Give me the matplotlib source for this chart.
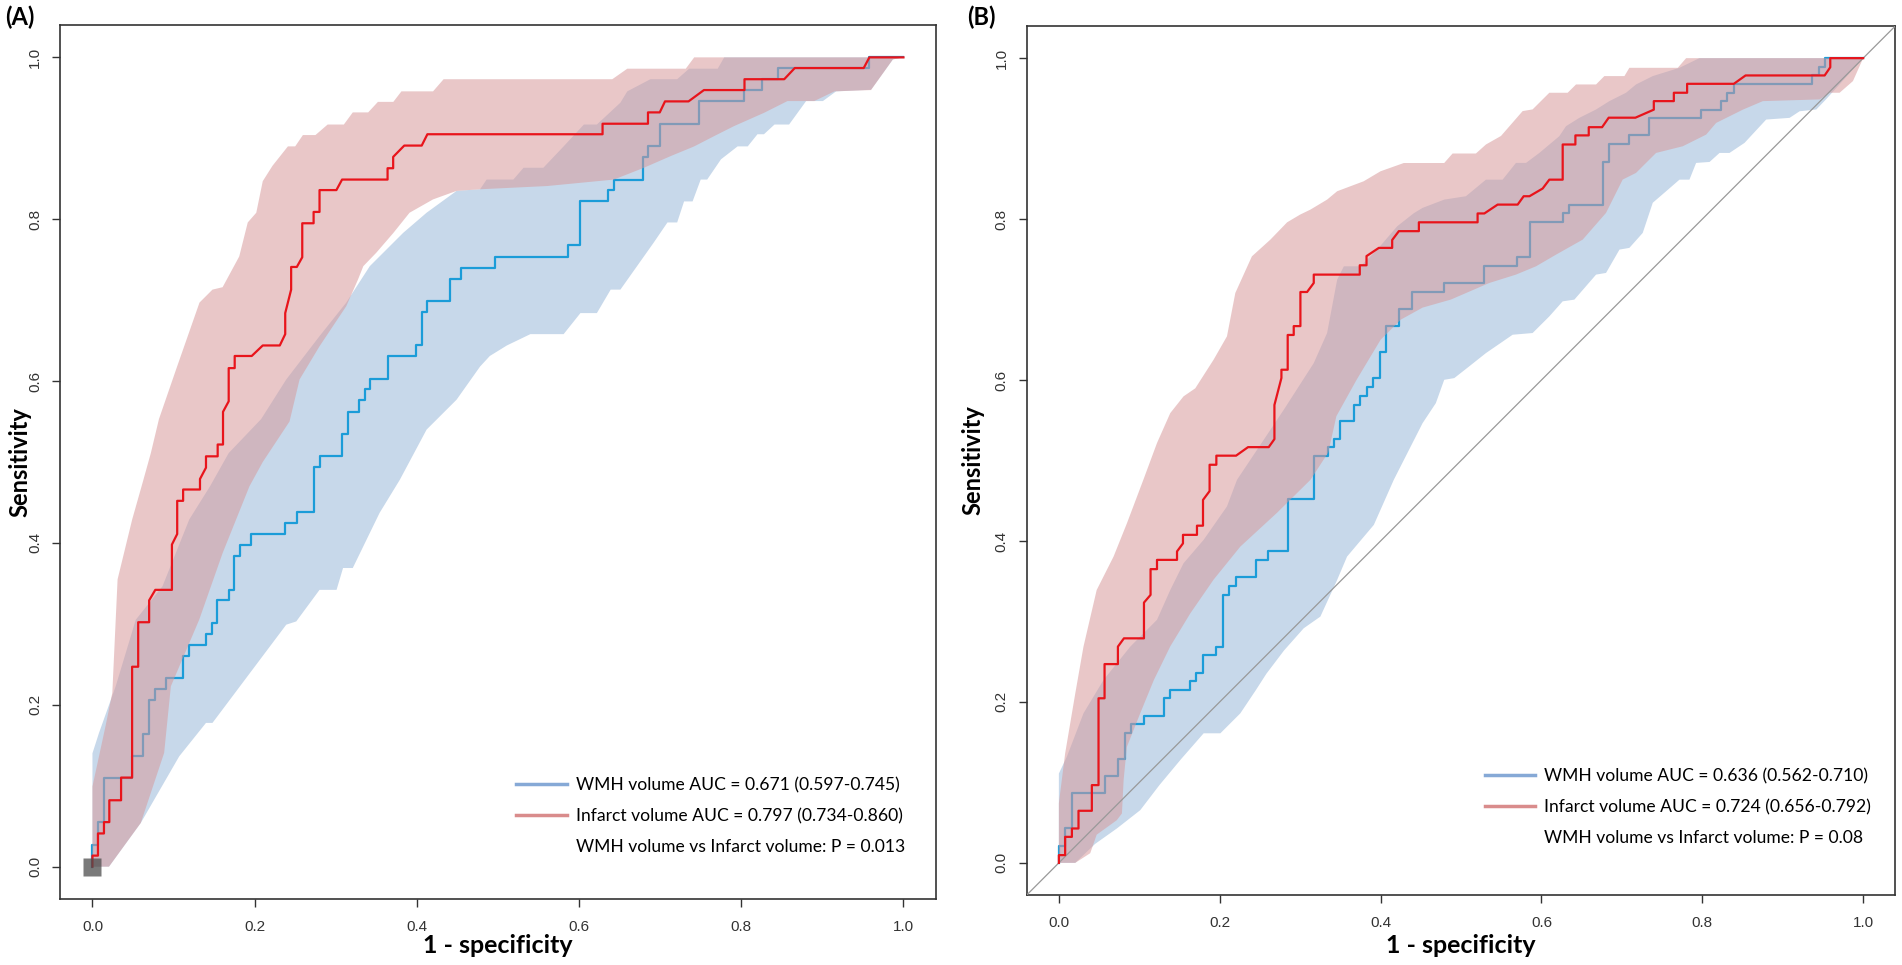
import numpy as np
import matplotlib
matplotlib.use('Agg')
import matplotlib.pyplot as plt
from matplotlib.lines import Line2D

plt.rcParams['font.family'] = ['Lato', 'DejaVu Sans']

# ---------------------------------------------------------------------------
# Data: ROC step curves (1 - specificity, sensitivity)
# and the upper / lower edges of the shaded 95% CI bands.
# ---------------------------------------------------------------------------
# Panel A
a_wmh_curve = [(0, 0), (0, 0.027), (0.0068, 0.027), (0.0068, 0.055), (0.0142, 0.055), (0.0142, 0.110),
               (0.0489, 0.110), (0.0489, 0.137), (0.0629, 0.137), (0.0629, 0.164), (0.0699, 0.164),
               (0.0699, 0.2056), (0.0769, 0.2056), (0.0769, 0.2196), (0.0905, 0.2196), (0.0905, 0.2328),
               (0.1115, 0.2328), (0.1115, 0.26), (0.1185, 0.26), (0.1185, 0.274), (0.140, 0.274),
               (0.140, 0.288), (0.147, 0.288), (0.147, 0.301), (0.154, 0.301), (0.154, 0.329),
               (0.168, 0.329), (0.168, 0.342), (0.175, 0.342), (0.175, 0.3836), (0.182, 0.3836),
               (0.182, 0.398), (0.196, 0.398), (0.196, 0.411), (0.238, 0.411), (0.238, 0.4248),
               (0.2517, 0.4248), (0.2517, 0.4388), (0.2727, 0.4388), (0.2727, 0.4936), (0.280, 0.4936),
               (0.280, 0.507), (0.3078, 0.507), (0.3078, 0.535), (0.3148, 0.535), (0.3148, 0.562),
               (0.3288, 0.562), (0.3288, 0.576), (0.3358, 0.576), (0.3358, 0.59), (0.3428, 0.59),
               (0.3428, 0.603), (0.3639, 0.603), (0.3639, 0.631), (0.3989, 0.631), (0.3989, 0.644),
               (0.406, 0.644), (0.406, 0.685), (0.413, 0.685), (0.413, 0.699), (0.441, 0.699),
               (0.441, 0.7264), (0.455, 0.7264), (0.455, 0.740), (0.4966, 0.740), (0.4966, 0.7536),
               (0.587, 0.7536), (0.587, 0.7676), (0.601, 0.7676), (0.601, 0.822), (0.636, 0.822),
               (0.636, 0.836), (0.643, 0.836), (0.643, 0.849), (0.679, 0.849), (0.679, 0.877),
               (0.685, 0.877), (0.685, 0.891), (0.6995, 0.891), (0.6995, 0.918), (0.7485, 0.918),
               (0.7485, 0.9456), (0.804, 0.9456), (0.804, 0.9596), (0.8256, 0.9596), (0.8256, 0.973),
               (0.8458, 0.973), (0.8458, 0.9868), (0.958, 0.9868), (0.958, 1.0), (1.0, 1.0)]
a_inf_curve = [(0, 0), (0, 0.0136), (0.0068, 0.0136), (0.0068, 0.041), (0.0142, 0.041), (0.0142, 0.055),
               (0.0208, 0.055), (0.0208, 0.082), (0.0353, 0.082), (0.0353, 0.110), (0.0489, 0.110),
               (0.0489, 0.247), (0.0564, 0.247), (0.0564, 0.302), (0.0699, 0.302), (0.0699, 0.329),
               (0.0775, 0.342), (0.098, 0.342), (0.098, 0.398), (0.1045, 0.411), (0.1045, 0.452),
               (0.1118, 0.452), (0.1118, 0.466), (0.1326, 0.466), (0.1326, 0.479), (0.14, 0.493),
               (0.14, 0.507), (0.1544, 0.507), (0.1544, 0.5216), (0.161, 0.5216), (0.161, 0.562),
               (0.168, 0.575), (0.168, 0.616), (0.1754, 0.616), (0.1754, 0.631), (0.1964, 0.631),
               (0.210, 0.644), (0.231, 0.644), (0.2377, 0.658), (0.2377, 0.684), (0.245, 0.713),
               (0.245, 0.741), (0.252, 0.741), (0.2587, 0.753), (0.2587, 0.795), (0.2727, 0.795),
               (0.2727, 0.809), (0.280, 0.809), (0.280, 0.836), (0.3008, 0.836), (0.3078, 0.849),
               (0.3639, 0.849), (0.3639, 0.863), (0.3708, 0.863), (0.3708, 0.877), (0.3845, 0.891),
               (0.406, 0.891), (0.413, 0.905), (0.629, 0.905), (0.629, 0.918), (0.685, 0.918),
               (0.685, 0.932), (0.6995, 0.932), (0.706, 0.9456), (0.735, 0.9456), (0.754, 0.9596),
               (0.804, 0.9596), (0.804, 0.973), (0.853, 0.973), (0.866, 0.9868), (0.951, 0.9868),
               (0.958, 1.0), (1.0, 1.0)]
a_wmh_ci_hi = [(0, 0), (0, 0.14), (0.008, 0.165), (0.0287, 0.223), (0.0534, 0.305), (0.0864, 0.3465),
               (0.1194, 0.429), (0.145, 0.47), (0.168, 0.511), (0.208, 0.553), (0.239, 0.602),
               (0.28, 0.6555), (0.313, 0.697), (0.342, 0.742), (0.383, 0.783), (0.412, 0.808),
               (0.449, 0.835), (0.478, 0.837), (0.486, 0.849), (0.519, 0.849), (0.5316, 0.8636),
               (0.556, 0.8636), (0.581, 0.89), (0.606, 0.917), (0.622, 0.917), (0.651, 0.944),
               (0.6595, 0.958), (0.688, 0.973), (0.721, 0.973), (0.7357, 0.986), (0.771, 0.986),
               (0.779, 1.0), (1, 1)]
a_wmh_ci_lo = [(0.0204, 0), (0.0596, 0.054), (0.107, 0.1363), (0.14, 0.1776), (0.148, 0.1776),
               (0.239, 0.299), (0.2513, 0.303), (0.28, 0.342), (0.301, 0.342), (0.309, 0.369),
               (0.321, 0.369), (0.354, 0.437), (0.379, 0.478), (0.412, 0.54), (0.449, 0.577),
               (0.478, 0.618), (0.49, 0.631), (0.511, 0.644), (0.54, 0.658), (0.581, 0.658),
               (0.6017, 0.684), (0.622, 0.684), (0.639, 0.713), (0.651, 0.713), (0.692, 0.771),
               (0.709, 0.796), (0.721, 0.796), (0.7295, 0.822), (0.74, 0.822), (0.75, 0.849),
               (0.758, 0.849), (0.775, 0.874), (0.7955, 0.89), (0.808, 0.89), (0.82, 0.905),
               (0.828, 0.905), (0.841, 0.917), (0.859, 0.917), (0.88, 0.946), (0.9007, 0.946),
               (0.917, 0.958), (0.96, 0.96), (0.987, 0.9975), (1, 1)]
a_inf_ci_hi = [(0, 0), (0, 0.099), (0.016, 0.173), (0.0245, 0.2147), (0.031, 0.355), (0.049, 0.429),
               (0.062, 0.475), (0.072, 0.511), (0.082, 0.553), (0.103, 0.614), (0.132, 0.697),
               (0.148, 0.713), (0.1605, 0.716), (0.181, 0.754), (0.1915, 0.796), (0.202, 0.808),
               (0.21, 0.847), (0.222, 0.866), (0.241, 0.89), (0.25, 0.89), (0.2595, 0.904),
               (0.275, 0.904), (0.29, 0.917), (0.31, 0.917), (0.321, 0.932), (0.34, 0.932),
               (0.352, 0.945), (0.371, 0.945), (0.381, 0.958), (0.42, 0.958), (0.433, 0.973),
               (0.641, 0.973), (0.6595, 0.986), (0.7316, 0.986), (0.742, 1.0), (1, 1)]
a_inf_ci_lo = [(0.0204, 0), (0.0596, 0.054), (0.0884, 0.1405), (0.0967, 0.2229), (0.1317, 0.3053),
               (0.1606, 0.3877), (0.1936, 0.47), (0.21, 0.5), (0.243, 0.55), (0.2554, 0.602),
               (0.28, 0.643), (0.313, 0.6926), (0.3275, 0.7256), (0.334, 0.742), (0.35, 0.7586),
               (0.371, 0.783), (0.391, 0.808), (0.42, 0.8245), (0.449, 0.835), (0.478, 0.837),
               (0.5605, 0.841), (0.643, 0.849), (0.68, 0.8636), (0.713, 0.878), (0.742, 0.89),
               (0.7666, 0.9027), (0.791, 0.915), (0.8284, 0.9316), (0.857, 0.946), (0.89, 0.946),
               (0.915, 0.958), (0.96, 0.9596), (0.987, 0.9975), (1, 1)]
a_marker = (0.0, 0.0)

# Panel B
b_wmh_curve = [(0, 0), (0, 0.0208), (0.0078, 0.0208), (0.0078, 0.0427), (0.0162, 0.0427), (0.0162, 0.0863),
               (0.0568, 0.0863), (0.0568, 0.1078), (0.0734, 0.1078), (0.0734, 0.1286), (0.0817, 0.1286),
               (0.0817, 0.161), (0.09, 0.161), (0.09, 0.1725), (0.1058, 0.1725), (0.1058, 0.1825),
               (0.1302, 0.1825), (0.1302, 0.2045), (0.1385, 0.2045), (0.1385, 0.2148), (0.1634, 0.2148),
               (0.1634, 0.226), (0.1709, 0.226), (0.1709, 0.2363), (0.1792, 0.2363), (0.1792, 0.2583),
               (0.1954, 0.2583), (0.1954, 0.2687), (0.2036, 0.2687), (0.2036, 0.333), (0.212, 0.333),
               (0.212, 0.344), (0.2203, 0.344), (0.2203, 0.355), (0.2452, 0.355), (0.2452, 0.3765),
               (0.2601, 0.3765), (0.2601, 0.387), (0.285, 0.387), (0.285, 0.452), (0.3174, 0.452),
               (0.3174, 0.506), (0.334, 0.506), (0.334, 0.5166), (0.3418, 0.5166), (0.3418, 0.5266),
               (0.350, 0.5266), (0.350, 0.5485), (0.3667, 0.5485), (0.3667, 0.569), (0.3741, 0.569),
               (0.3741, 0.5805), (0.3825, 0.5805), (0.3825, 0.5913), (0.3908, 0.5913), (0.3908, 0.6025),
               (0.399, 0.6025), (0.399, 0.6348), (0.4073, 0.6348), (0.4073, 0.667), (0.4227, 0.667),
               (0.4227, 0.6883), (0.4393, 0.6883), (0.4393, 0.7094), (0.4791, 0.7094), (0.4791, 0.7206),
               (0.529, 0.7206), (0.529, 0.742), (0.5696, 0.742), (0.5696, 0.753), (0.5858, 0.753),
               (0.5858, 0.796), (0.6264, 0.796), (0.6264, 0.807), (0.6347, 0.807), (0.6347, 0.818),
               (0.6762, 0.818), (0.6762, 0.871), (0.6836, 0.871), (0.6836, 0.8927), (0.7085, 0.8927),
               (0.7085, 0.904), (0.7334, 0.904), (0.7334, 0.925), (0.7978, 0.925), (0.7978, 0.936),
               (0.8227, 0.936), (0.8227, 0.9466), (0.831, 0.9466), (0.831, 0.957), (0.8392, 0.957),
               (0.8392, 0.968), (0.9363, 0.968), (0.9363, 0.9785), (0.9446, 0.9785), (0.9446, 0.9887),
               (0.953, 0.9887), (0.953, 1.0), (1.0, 1.0)]
b_inf_curve = [(0, 0), (0, 0.0096), (0.0078, 0.0096), (0.0078, 0.0323), (0.0162, 0.0323), (0.0162, 0.0427),
               (0.0244, 0.0427), (0.0244, 0.0647), (0.041, 0.0647), (0.041, 0.0966), (0.0493, 0.0966),
               (0.0493, 0.2045), (0.0568, 0.2045), (0.0568, 0.247), (0.0734, 0.247), (0.0734, 0.2687),
               (0.0809, 0.279), (0.1058, 0.279), (0.1058, 0.3234), (0.114, 0.333), (0.114, 0.365),
               (0.122, 0.365), (0.122, 0.3765), (0.1469, 0.3765), (0.1469, 0.387), (0.1543, 0.397),
               (0.1543, 0.4076), (0.1717, 0.4076), (0.1717, 0.419), (0.1792, 0.419), (0.1792, 0.451),
               (0.1874, 0.462), (0.1874, 0.4947), (0.1958, 0.4947), (0.1958, 0.506), (0.2203, 0.506),
               (0.2352, 0.5166), (0.2609, 0.5166), (0.268, 0.5266), (0.268, 0.569), (0.2767, 0.6025),
               (0.2767, 0.6128), (0.2845, 0.6128), (0.2845, 0.656), (0.292, 0.656), (0.292, 0.667),
               (0.3003, 0.667), (0.3003, 0.7094), (0.3086, 0.7094), (0.3169, 0.7206), (0.3169, 0.731),
               (0.3741, 0.731), (0.3741, 0.7426), (0.3825, 0.7426), (0.3825, 0.754), (0.3978, 0.7642),
               (0.4144, 0.7642), (0.4144, 0.774), (0.4227, 0.785), (0.4476, 0.785), (0.4476, 0.796),
               (0.5206, 0.796), (0.5206, 0.807), (0.529, 0.807), (0.5455, 0.818), (0.5704, 0.818),
               (0.5779, 0.8284), (0.5851, 0.8284), (0.6015, 0.838), (0.6098, 0.849), (0.6264, 0.849),
               (0.6264, 0.8927), (0.6422, 0.8927), (0.6422, 0.904), (0.6588, 0.904), (0.6588, 0.9142),
               (0.6754, 0.9142), (0.6836, 0.926), (0.7168, 0.926), (0.7397, 0.936), (0.7397, 0.9466),
               (0.7646, 0.9466), (0.7646, 0.957), (0.7811, 0.957), (0.7811, 0.9681), (0.8392, 0.9681),
               (0.8538, 0.9785), (0.9521, 0.9785), (0.9591, 0.9887), (0.9591, 1.0), (1.0, 1.0)]
b_wmh_ci_hi = [(0, 0), (0, 0.111), (0.01, 0.132), (0.0306, 0.1858), (0.0555, 0.2272), (0.0888, 0.2687),
               (0.122, 0.302), (0.1385, 0.339), (0.155, 0.3723), (0.18, 0.4014), (0.209, 0.4429),
               (0.2215, 0.476), (0.2796, 0.563), (0.3169, 0.621), (0.3335, 0.6584), (0.346, 0.7247),
               (0.3543, 0.7413), (0.3749, 0.7413), (0.3957, 0.762), (0.4206, 0.791), (0.4413, 0.8073),
               (0.4522, 0.8139), (0.4791, 0.8242), (0.5061, 0.8284), (0.531, 0.849), (0.5517, 0.849),
               (0.5683, 0.8698), (0.5808, 0.8698), (0.5974, 0.8822), (0.6222, 0.903), (0.6305, 0.9154),
               (0.6471, 0.9258), (0.6679, 0.9362), (0.6845, 0.9466), (0.7052, 0.957), (0.7176, 0.9673),
               (0.7384, 0.9777), (0.7716, 0.988), (0.7964, 1.0), (1, 1)]
b_wmh_ci_lo = [(0.0204, 0), (0.045, 0.0235), (0.0722, 0.0428), (0.1012, 0.0655), (0.125, 0.0966),
               (0.152, 0.129), (0.18, 0.161), (0.2008, 0.161), (0.2256, 0.1858), (0.245, 0.2148),
               (0.258, 0.235), (0.28, 0.264), (0.3044, 0.2915), (0.3251, 0.306), (0.346, 0.3516),
               (0.3583, 0.3806), (0.3916, 0.42), (0.4164, 0.476), (0.4522, 0.5464), (0.4687, 0.5713),
               (0.4791, 0.6003), (0.4916, 0.6024), (0.5102, 0.617), (0.531, 0.6335), (0.5642, 0.6563),
               (0.589, 0.6584), (0.6098, 0.6791), (0.6264, 0.6978), (0.6409, 0.6999), (0.6679, 0.731),
               (0.6803, 0.7331), (0.697, 0.7621), (0.7093, 0.7642), (0.7259, 0.7828), (0.7384, 0.8203),
               (0.755, 0.8346), (0.7716, 0.849), (0.784, 0.849), (0.7923, 0.8698), (0.809, 0.871),
               (0.8214, 0.8822), (0.8338, 0.8822), (0.8525, 0.8947), (0.8794, 0.9237), (0.9085, 0.9258),
               (0.921, 0.934), (0.9417, 0.9362), (0.954, 0.949), (1, 1)]
b_inf_ci_hi = [(0, 0), (0, 0.074), (0.0078, 0.136), (0.0203, 0.21), (0.0306, 0.2687), (0.047, 0.339),
               (0.068, 0.3806), (0.0847, 0.4222), (0.1053, 0.4767), (0.122, 0.5217), (0.1385, 0.5589),
               (0.155, 0.5797), (0.1696, 0.5897), (0.1924, 0.6253), (0.209, 0.6543), (0.2194, 0.7082),
               (0.240, 0.7537), (0.263, 0.7745), (0.2838, 0.796), (0.300, 0.8056), (0.3128, 0.8118),
               (0.3335, 0.8242), (0.346, 0.8346), (0.379, 0.847), (0.3999, 0.8594), (0.4289, 0.8697),
               (0.4791, 0.8697), (0.4895, 0.8815), (0.5185, 0.8815), (0.531, 0.8927), (0.5497, 0.9033),
               (0.5766, 0.9342), (0.589, 0.9363), (0.6098, 0.957), (0.6326, 0.957), (0.643, 0.9673),
               (0.6679, 0.9673), (0.6782, 0.9777), (0.7032, 0.9777), (0.7093, 0.988), (0.7695, 0.988),
               (0.7799, 1.0), (1, 1)]
b_inf_ci_lo = [(0.0204, 0), (0.039, 0.012), (0.047, 0.035), (0.072, 0.053), (0.0784, 0.0614),
               (0.0805, 0.103), (0.0845, 0.144), (0.1012, 0.186), (0.118, 0.227), (0.1385, 0.269),
               (0.1634, 0.31), (0.1924, 0.352), (0.2256, 0.393), (0.2712, 0.435), (0.3128, 0.476),
               (0.335, 0.51), (0.345, 0.555), (0.37, 0.6), (0.40, 0.65), (0.425, 0.675),
               (0.4522, 0.69), (0.4874, 0.70), (0.5351, 0.7206), (0.5683, 0.731), (0.5932, 0.7413),
               (0.6181, 0.7558), (0.6513, 0.7745), (0.6803, 0.8077), (0.701, 0.8491), (0.7176, 0.8574),
               (0.7425, 0.8822), (0.7757, 0.8905), (0.8048, 0.905), (0.8172, 0.9195), (0.8504, 0.936),
               (0.8753, 0.9466), (0.9458, 0.9487), (0.9583, 0.957), (0.9707, 0.957), (0.9873, 0.9715),
               (1, 1)]

a_labels = ['WMH volume AUC = 0.671 (0.597-0.745)',
            'Infarct volume AUC = 0.797 (0.734-0.860)',
            'WMH volume vs Infarct volume: P = 0.013']
b_labels = ['WMH volume AUC = 0.636 (0.562-0.710)',
            'Infarct volume AUC = 0.724 (0.656-0.792)',
            'WMH volume vs Infarct volume: P = 0.08']
ticks = [0.0, 0.2, 0.4, 0.6, 0.8, 1.0]

# colours
blue_line = '#1b9cd8'
red_line = '#e8141b'
blue_fill = '#c7d8ea'
red_fill = '#d79a9c'
blue_leg = '#86a9d6'
red_leg = '#d98c8c'


def band(ax, hi, lo, **kw):
    hi = np.array(hi)
    lo = np.array(lo)
    xs = np.r_[hi[:, 0], lo[::-1, 0]]
    ys = np.r_[hi[:, 1], lo[::-1, 1]]
    ax.fill(xs, ys, lw=0, **kw)


def draw_panel(ax, wmh, inf, wmh_hi, wmh_lo, inf_hi, inf_lo, labels, leg_anchor):
    band(ax, wmh_hi, wmh_lo, color=blue_fill, zorder=1)
    w = np.array(wmh)
    ax.plot(w[:, 0], w[:, 1], color=blue_line, lw=1.6, zorder=2)
    band(ax, inf_hi, inf_lo, color=red_fill, alpha=0.55, zorder=3)
    r = np.array(inf)
    ax.plot(r[:, 0], r[:, 1], color=red_line, lw=1.6, zorder=5)

    ax.set_xlim(-0.04, 1.04)
    ax.set_ylim(-0.04, 1.04)
    ax.set_xticks(ticks)
    ax.set_yticks(ticks)
    ax.set_xticklabels(['%.1f' % t for t in ticks], family='Liberation Sans', fontsize=11)
    ax.set_yticklabels(['%.1f' % t for t in ticks], family='Liberation Sans', fontsize=11,
                       rotation=90, va='center')
    ax.tick_params(axis='both', length=6, width=1, color='#333333', labelcolor='#333333')
    ax.tick_params(axis='x', pad=9)
    ax.tick_params(axis='y', pad=7)
    for s in ax.spines.values():
        s.set_color('#333333')
        s.set_linewidth(1.2)

    ax.set_xlabel('1 - specificity', fontsize=18, fontweight='bold')
    ax.set_ylabel('Sensitivity', fontsize=17, fontweight='bold')

    handles = [Line2D([], [], color=blue_leg, lw=2.5),
               Line2D([], [], color=red_leg, lw=2.5),
               Line2D([], [], color='none', lw=0)]
    leg = ax.legend(handles, labels, loc='lower right', bbox_to_anchor=leg_anchor, frameon=False,
                    fontsize=12.6, handlelength=2.9, handletextpad=0.5, labelspacing=0.85,
                    borderpad=0, borderaxespad=0)
    return leg


fig = plt.figure(figsize=(19.02, 9.65), dpi=100)
ax_a = fig.add_axes([0.03155, 0.0684, 0.4605, 0.9057])
ax_b = fig.add_axes([0.5398, 0.0725, 0.4567, 0.9006])

draw_panel(ax_a, a_wmh_curve, a_inf_curve, a_wmh_ci_hi, a_wmh_ci_lo, a_inf_ci_hi, a_inf_ci_lo,
           a_labels, (0.965, 0.05))
ax_a.plot(*a_marker, marker='s', ms=13, color='#4d4d4d', alpha=0.75, zorder=6, mec='none')
ax_a.yaxis.set_label_coords(-0.046, 0.5)
ax_a.xaxis.set_label_coords(0.5, -0.053)

draw_panel(ax_b, b_wmh_curve, b_inf_curve, b_wmh_ci_hi, b_wmh_ci_lo, b_inf_ci_hi, b_inf_ci_lo,
           b_labels, (0.972, 0.056))
ax_b.axline((0, 0), slope=1, color='#999999', lw=0.9, zorder=4)
ax_b.yaxis.set_label_coords(-0.062, 0.5)
ax_b.xaxis.set_label_coords(0.5, -0.058)

for ax in (ax_a, ax_b):
    ax.yaxis.label.set_va('center')
    ax.xaxis.label.set_va('center')

fig.text(5 / 1902, 1 - 6 / 965, '(A)', ha='left', va='top', fontsize=17, fontweight='bold')
fig.text(967 / 1902, 1 - 6 / 965, '(B)', ha='left', va='top', fontsize=17, fontweight='bold')

fig.savefig('out.png', dpi=100)
